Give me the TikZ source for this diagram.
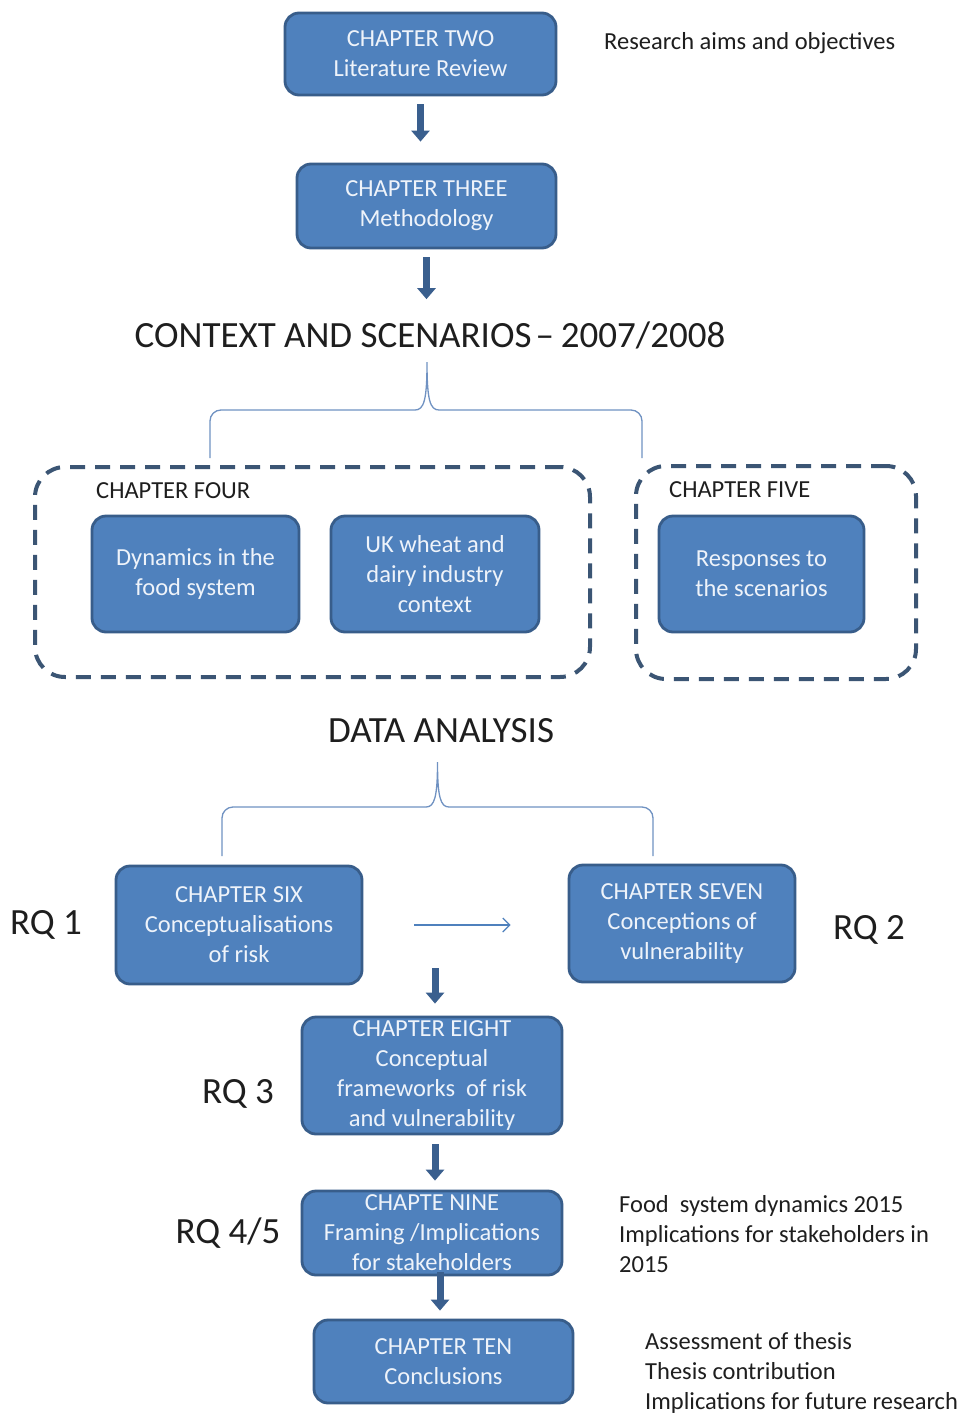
\documentclass[tikz,border=0pt]{standalone}
\usepackage{fontspec}
\setmainfont{Carlito}
\usetikzlibrary{arrows.meta}

\definecolor{boxfill}{HTML}{4F81BD}
\definecolor{boxedge}{HTML}{385D8A}
\definecolor{boxtext}{HTML}{EEF3FA}
\definecolor{frameclr}{HTML}{3B5574}
\definecolor{arrowclr}{HTML}{3A5F8E}
\definecolor{braceclr}{HTML}{7092C2}
\definecolor{inkclr}{HTML}{1E1E1E}

\begin{document}
\begin{tikzpicture}[
  x=1pt, y=-1pt,
  chap/.style={draw=boxedge, line width=2.8pt, fill=boxfill, rounded corners=14pt,
    text=boxtext, align=center, inner sep=0pt,
    font=\fontsize{24.5}{30}\selectfont},
  frame/.style={draw=frameclr, line width=4pt, dash pattern=on 15pt off 10pt,
    rounded corners=30pt, inner sep=0pt},
  heading/.style={text=inkclr, inner sep=0pt, font=\fontsize{37}{42}\selectfont},
  note/.style={text=inkclr, inner sep=0pt, align=left, anchor=west,
    font=\fontsize{24.5}{30}\selectfont},
  fat/.style={draw=arrowclr, line width=7pt, -{Triangle[width=18pt,length=11pt]}},
  slim/.style={draw=boxfill, line width=1.2pt, -{Straight Barb[length=7pt,width=14pt]}},
  brace/.style={draw=braceclr, line width=1.3pt}
]
\useasboundingbox[fill=white] (0,0) rectangle (967,1413);

% top of the chain
\node[chap, minimum width=271pt, minimum height=82pt] (ch2) at (420.5,54)
  {CHAPTER TWO\\Literature Review};
\node[note] (aims) at (604,43) {Research aims and objectives};
\node[chap, minimum width=259pt, minimum height=84pt] (ch3) at (426.5,206)
  {CHAPTER THREE\\Methodology};
\node[heading] (ctx) at (430,335)
  {CONTEXT AND SCENARIOS\hspace{4pt}–\hspace{7pt}2007/2008};

% chapters four and five
\node[frame, minimum width=555pt, minimum height=210pt] (ch4f) at (312.5,572) {};
\node[note] (ch4l) at (96,491) {CHAPTER FOUR};
\node[chap, minimum width=207pt, minimum height=116pt] (dyn) at (195.5,574)
  {Dynamics in the\\food system};
\node[chap, minimum width=208pt, minimum height=116pt] (uk) at (435,574)
  {UK wheat and\\dairy industry\\context};
\node[frame, minimum width=280pt, minimum height=213pt] (ch5f) at (776,572.5) {};
\node[note] (ch5l) at (669,490) {CHAPTER FIVE};
\node[chap, minimum width=205pt, minimum height=116pt] (resp) at (761.5,574)
  {Responses to\\the scenarios};

% data analysis
\node[heading] (data) at (441,731) {DATA ANALYSIS};
\node[chap, minimum width=246pt, minimum height=118pt] (ch6) at (239,925)
  {CHAPTER SIX\\Conceptualisations\\of risk};
\node[chap, minimum width=226pt, minimum height=117pt] (ch7) at (682,923.5)
  {CHAPTER SEVEN\\Conceptions of\\vulnerability};
\node[heading] (rq1) at (46,925) {RQ 1};
\node[heading] (rq2) at (869,930) {RQ 2};

% lower chain
\node[chap, minimum width=260pt, minimum height=117pt] (ch8) at (432,1075.5)
  {CHAPTER EIGHT\\Conceptual\\frameworks\ \ of risk\\and vulnerability};
\node[heading] (rq3) at (238,1094) {RQ 3};
\node[chap, minimum width=260pt, minimum height=84pt] (ch9) at (432,1233)
  {CHAPTE NINE\\Framing /Implications\\for stakeholders};
\node[heading] (rq45) at (228,1233) {RQ 4/5};
\node[note] (n9) at (619,1234)
  {Food\ \ system dynamics 2015\\Implications for stakeholders in\\2015};
\node[chap, minimum width=259pt, minimum height=83pt] (ch10) at (443.5,1361.5)
  {CHAPTER TEN\\Conclusions};
\node[note] (n10) at (645,1373)
  {Assessment of thesis\\Thesis contribution\\Implications for future research};

% braces under the headings
\coordinate (b1l) at (210,458);
\coordinate (b1t) at (427,362);
\coordinate (b1r) at (642,458);
\draw[brace] (b1l) -- (210,421) to[out=90,in=180] (221,410) -- (415,410)
  .. controls (424,410) and (427,400) .. (b1t)
  .. controls (427,400) and (430,410) .. (439,410) -- (631,410)
  to[out=0,in=90] (642,421) -- (b1r);
\coordinate (b2l) at (222,856);
\coordinate (b2t) at (437.5,762);
\coordinate (b2r) at (653,856);
\draw[brace] (b2l) -- (222,818) to[out=90,in=180] (233,807) -- (426,807)
  .. controls (434.5,807) and (437.5,797) .. (b2t)
  .. controls (437.5,797) and (440.5,807) .. (449,807) -- (642,807)
  to[out=0,in=90] (653,818) -- (b2r);

% connectors
\draw[fat, shorten <=8pt, shorten >=21pt] (ch2.south) -- (ch2.south |- ch3.north);
\draw[fat, shorten <=8pt, shorten >=22pt] (ch3.south) -- (ch3.south |- ctx.north);
\draw[slim, shorten <=51pt, shorten >=57pt] (ch6.east) -- (ch6.east -| ch7.west);
\coordinate (row) at (435,968);
\draw[fat, shorten >=12pt] (row) -- (row |- ch8.north);
\draw[fat, shorten <=9pt, shorten >=9pt] ([xshift=3pt]ch8.south) -- ([xshift=3pt]ch8.south |- ch9.north);
\draw[fat, shorten <=-4pt, shorten >=8pt] ([xshift=8pt]ch9.south) -- ([xshift=8pt]ch9.south |- ch10.north);
\end{tikzpicture}
\end{document}
